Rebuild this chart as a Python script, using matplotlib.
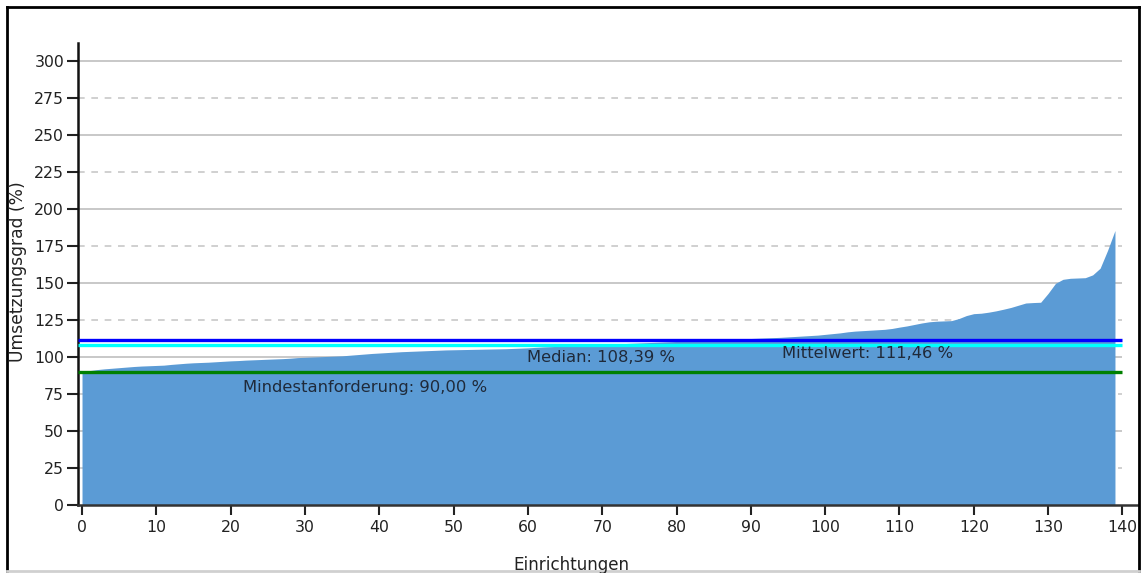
import numpy as np
import matplotlib.pyplot as plt
from matplotlib.lines import Line2D

# sorted Umsetzungsgrad per Einrichtung
werte = [
    90.0, 90.8, 91.5, 92.0, 92.4, 92.8, 93.2, 93.6, 93.9, 94.1,
    94.3, 94.5, 95.0, 95.4, 95.8, 96.1, 96.3, 96.5, 96.8, 97.1,
    97.4, 97.6, 97.9, 98.1, 98.3, 98.5, 98.7, 98.9, 99.2, 99.6,
    99.8, 100.0, 100.2, 100.4, 100.6, 100.8, 101.2, 101.6, 102.0, 102.4,
    102.7, 103.0, 103.3, 103.6, 103.8, 104.0, 104.2, 104.4, 104.6, 104.8,
    104.9, 105.0, 105.1, 105.2, 105.3, 105.4, 105.5, 105.6, 105.8, 106.0,
    106.2, 106.5, 106.8, 107.0, 107.2, 107.4, 107.6, 107.8, 108.0, 108.3,
    108.5, 108.7, 108.9, 109.1, 109.3, 109.5, 109.7, 109.9, 110.1, 110.3,
    110.5, 110.7, 110.9, 111.1, 111.3, 111.5, 111.7, 111.9, 112.1, 112.3,
    112.5, 112.7, 112.9, 113.1, 113.3, 113.6, 113.9, 114.2, 114.5, 114.8,
    115.3, 115.8, 116.3, 117.0, 117.5, 117.8, 118.1, 118.4, 118.7, 119.3,
    120.2, 121.0, 122.0, 123.0, 123.8, 124.2, 124.4, 124.6, 126.0, 128.0,
    129.3, 129.6, 130.3, 131.2, 132.3, 133.5, 135.0, 136.5, 136.8, 137.0,
    143.0, 149.8, 152.5, 153.2, 153.4, 153.6, 155.5, 160.0, 172.0, 185.5,
]
einrichtung = np.arange(len(werte))

mittelwert = 111.46
median = 108.39
mindest = 90.0

y_ticks = list(range(0, 301, 25))
x_ticks = list(range(0, 141, 10))

txt_col = '#1f2a3a'
plt.rcParams['font.family'] = ['DejaVu Sans']

fig = plt.figure(figsize=(11.44, 5.73), dpi=100)
ax = fig.add_axes([78 / 1144, 68 / 573, 1060 / 1144, 462 / 573])
ax.set_xlim(-0.54, 142.1)
ax.set_ylim(0, 312.2)

# grid: solid every 50, dashed in between, only up to x=140
for v in y_ticks[1:]:
    if v % 50 == 0:
        ax.hlines(v, -0.54, 140, color='#c8c8c8', lw=1.4, zorder=0)
    else:
        ax.hlines(v, -0.54, 140, color='#c8c8c8', lw=1.2, ls=(0, (4, 4)), zorder=0)

ax.fill_between(einrichtung, 0, werte, color='#5b9bd5', lw=0, zorder=1)

ax.hlines(mittelwert, -0.54, 140, color='#0000ff', lw=2.4, zorder=3)
ax.hlines(median, -0.54, 140, color='#00ffff', lw=2.4, zorder=3)
ax.hlines(mindest, -0.54, 140, color='#008000', lw=2.4, zorder=3)

ax.text(59.9, 100.0, 'Median: 108,39 %', fontsize=11.8, color=txt_col, va='center', zorder=4)
ax.text(94.2, 102.2, 'Mittelwert: 111,46 %', fontsize=11.8, color=txt_col, va='center', zorder=4)
ax.text(21.7, 79.7, 'Mindestanforderung: 90,00 %', fontsize=11.8, color=txt_col, va='center', zorder=4)

ax.set_yticks(y_ticks)
ax.set_xticks(x_ticks)
ax.tick_params(axis='y', direction='out', length=8, width=1.5, color='#222222',
               labelsize=11.3, labelcolor='#222222', pad=2)
ax.tick_params(axis='x', direction='out', length=7, width=1.5, color='#222222',
               labelsize=11.3, labelcolor='#222222', pad=4)

for s in ['top', 'right']:
    ax.spines[s].set_visible(False)
ax.spines['left'].set_linewidth(1.8)
ax.spines['left'].set_color('#111111')
ax.spines['bottom'].set_linewidth(1.8)
ax.spines['bottom'].set_color('#333333')

fig.text(18 / 1144, 1 - 272 / 573, 'Umsetzungsgrad (%)', rotation=90, fontsize=12.3,
         color='#222222', ha='center', va='center')
fig.text(571 / 1144, 1 - 565 / 573, 'Einrichtungen', fontsize=12.1,
         color='#222222', ha='center', va='center')

# outer frame of the screenshot
fig.add_artist(Line2D([7 / 1144, 7 / 1144], [1 - 7 / 573, 1 - 571 / 573], transform=fig.transFigure, color='black', lw=2))
fig.add_artist(Line2D([7 / 1144, 1139 / 1144], [1 - 7 / 573, 1 - 7 / 573], transform=fig.transFigure, color='black', lw=2))
fig.add_artist(Line2D([1139 / 1144, 1139 / 1144], [1 - 7 / 573, 1 - 571 / 573], transform=fig.transFigure, color='black', lw=2))
fig.add_artist(Line2D([7 / 1144, 1139 / 1144], [1 - 571 / 573, 1 - 571 / 573], transform=fig.transFigure, color='#d0d0d0', lw=2))

fig.savefig('out.png', dpi=100)
